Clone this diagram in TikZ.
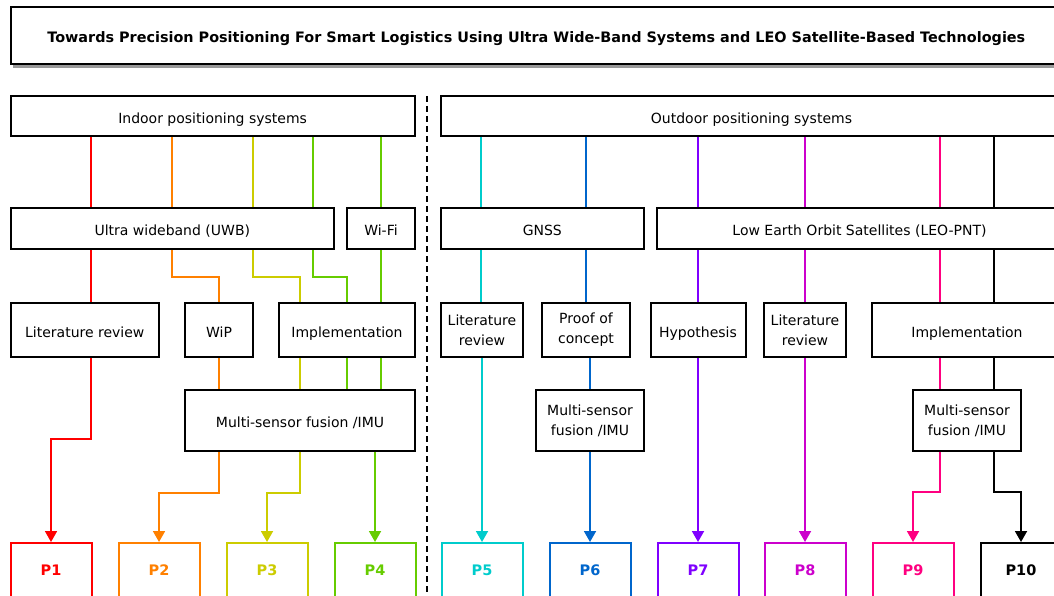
\documentclass[tikz,border=0pt]{standalone}
\usepackage{fontspec}
\setmainfont{DejaVu Sans}
\usetikzlibrary{arrows.meta,shadows}

\definecolor{cRed}{HTML}{FF0000}
\definecolor{cOrange}{HTML}{FF8000}
\definecolor{cYellow}{HTML}{CCCC00}
\definecolor{cGreen}{HTML}{66CC00}
\definecolor{cCyan}{HTML}{00CCCC}
\definecolor{cBlue}{HTML}{0066CC}
\definecolor{cPurple}{HTML}{7F00FF}
\definecolor{cMagenta}{HTML}{CC00CC}
\definecolor{cPink}{HTML}{FF0080}

\begin{document}
\begin{tikzpicture}[x=1pt,y=-1pt,
  box/.style={draw=black, line width=2pt, fill=white, inner sep=0pt, align=center,
              font=\fontsize{14pt}{20pt}\selectfont},
  one/.style={text height=15pt, text depth=0.5pt},
  wh/.style 2 args={minimum width=#1pt, minimum height=#2pt},
  pbox/.style={draw=#1, line width=2pt, fill=white, text=#1, inner sep=0pt,
               minimum width=81pt, minimum height=55pt,
               text height=10pt, text depth=0pt,
               font=\fontsize{14.5pt}{17pt}\selectfont\bfseries},
  link/.style={line width=1.8pt},
  arr/.style={line width=1.8pt, -{Triangle[width=12pt,length=11pt]}},
]
\useasboundingbox (0,0) rectangle (1054,596);
\clip (0,0) rectangle (1054,596);

% title banner
\node[box, wh={1051}{57}, line width=2pt, text height=14.1pt, text depth=0pt,
      drop shadow={shadow xshift=2pt, shadow yshift=-4pt, fill=black!40, opacity=1},
      font=\fontsize{14.4pt}{16pt}\selectfont\bfseries] (title) at (536.3,35.5)
  {Towards Precision Positioning For Smart Logistics Using Ultra Wide-Band Systems and LEO Satellite-Based Technologies};

% indoor / outdoor separator
\coordinate (dtop) at (427,96);
\coordinate (dbot) at (427,600);
\draw[line width=2pt, dash pattern=on 6pt off 4pt] (dtop) -- (dbot);

% level 1
\node[box, one, wh={404}{40}] (indoor)  at (212.6,116) {Indoor positioning systems};
\node[box, one, wh={621}{40}] (outdoor) at (751.5,116) {Outdoor positioning systems};

% level 2
\node[box, one, wh={323}{41}] (uwb)  at (172.3,228.5) {Ultra wideband (UWB)};
\node[box, one, wh={68}{41}]  (wifi) at (381,228.5)   {Wi-Fi};
\node[box, one, wh={203}{41}] (gnss) at (542.3,228.5) {GNSS};
\node[box, one, wh={405}{41}] (leo)  at (859.5,228.5) {Low Earth Orbit Satellites (LEO-PNT)};

% level 3
\node[box, one, wh={148}{54}] (lit1)  at (84.8,330) {Literature review};
\node[box, one, wh={68}{54}]  (wip)   at (219,330)  {WiP};
\node[box, one, wh={136}{54}] (impl1) at (347,330)  {Implementation};
\node[box, wh={82}{54}]       (lit2)  at (482,330)  {Literature\\review};
\node[box, wh={88}{54}]       (poc)   at (586,330)  {Proof of\\concept};
\node[box, one, wh={95}{54}]  (hyp)   at (698,330)  {Hypothesis};
\node[box, wh={82}{54}]       (lit3)  at (805,330)  {Literature\\review};
\node[box, one, wh={190}{54}] (impl2) at (967,330)  {Implementation};

% sensor fusion
\node[box, one, wh={230}{61}] (msf1) at (300,420.5) {Multi-sensor fusion /IMU};
\node[box, wh={108}{61}]      (msf2) at (590,420.5) {Multi-sensor\\fusion /IMU};
\node[box, wh={108}{61}]      (msf3) at (967,420.5) {Multi-sensor\\fusion /IMU};

% publications
\node[pbox=cRed]     (P1)  at (51,570.5)   {P1};
\node[pbox=cOrange]  (P2)  at (159,570.5)  {P2};
\node[pbox=cYellow]  (P3)  at (267,570.5)  {P3};
\node[pbox=cGreen]   (P4)  at (375,570.5)  {P4};
\node[pbox=cCyan]    (P5)  at (482,570.5)  {P5};
\node[pbox=cBlue]    (P6)  at (590,570.5)  {P6};
\node[pbox=cPurple]  (P7)  at (698,570.5)  {P7};
\node[pbox=cMagenta] (P8)  at (805,570.5)  {P8};
\node[pbox=cPink]    (P9)  at (913,570.5)  {P9};
\node[pbox=black]    (P10) at (1021,570.5) {P10};

% column positions of the tracks
\coordinate (xr) at (91,0);
\coordinate (xo) at (172,0);
\coordinate (xy) at (253,0);
\coordinate (xy2) at (300,0);
\coordinate (xg) at (313,0);
\coordinate (xc) at (481,0);
\coordinate (xp) at (940,0);
\coordinate (xk) at (994,0);

% red track
\draw[link, cRed] (indoor.south -| xr) -- (uwb.north -| xr);
\draw[link, cRed] (uwb.south -| xr) -- (lit1.north -| xr);
\draw[arr, cRed] (lit1.south -| xr) -- ++(0,81) -| (P1.north);

% orange track
\draw[link, cOrange] (indoor.south -| xo) -- (uwb.north -| xo);
\draw[link, cOrange] (uwb.south -| xo) -- ++(0,27) -| (wip.north);
\draw[link, cOrange] (wip.south) -- (wip.south |- msf1.north);
\draw[arr, cOrange] (msf1.south -| wip.south) -- ++(0,41) -| (P2.north);

% yellow track
\draw[link, cYellow] (indoor.south -| xy) -- (uwb.north -| xy);
\draw[link, cYellow] (uwb.south -| xy) -- ++(0,27) -| (impl1.north -| xy2);
\draw[link, cYellow] (impl1.south -| xy2) -- (msf1.north -| xy2);
\draw[arr, cYellow] (msf1.south -| xy2) -- ++(0,41) -| (P3.north);

% green track through UWB
\draw[link, cGreen] (indoor.south -| xg) -- (uwb.north -| xg);
\draw[link, cGreen] (uwb.south -| xg) -- ++(0,27) -| (impl1.north);
\draw[link, cGreen] (impl1.south) -- (impl1.south |- msf1.north);

% green track through Wi-Fi
\draw[link, cGreen] (indoor.south -| wifi) -- (wifi.north);
\draw[link, cGreen] (wifi.south) -- (impl1.north -| wifi);
\draw[link, cGreen] (impl1.south -| wifi) -- (msf1.north -| wifi);
\draw[arr, cGreen] (msf1.south -| P4) -- (P4.north);

% cyan track
\draw[link, cCyan] (outdoor.south -| xc) -- (gnss.north -| xc);
\draw[link, cCyan] (gnss.south -| xc) -- (lit2.north -| xc);
\draw[arr, cCyan] (lit2.south -| P5) -- (P5.north);

% blue track
\draw[link, cBlue] (outdoor.south -| poc) -- (gnss.north -| poc);
\draw[link, cBlue] (gnss.south -| poc) -- (poc.north);
\draw[link, cBlue] (poc.south -| P6) -- (msf2.north -| P6);
\draw[arr, cBlue] (msf2.south -| P6) -- (P6.north);

% purple track
\draw[link, cPurple] (outdoor.south -| hyp) -- (leo.north -| hyp);
\draw[link, cPurple] (leo.south -| hyp) -- (hyp.north);
\draw[arr, cPurple] (hyp.south) -- (P7.north);

% magenta track
\draw[link, cMagenta] (outdoor.south -| lit3) -- (leo.north -| lit3);
\draw[link, cMagenta] (leo.south -| lit3) -- (lit3.north);
\draw[arr, cMagenta] (lit3.south) -- (P8.north);

% pink track
\draw[link, cPink] (outdoor.south -| xp) -- (leo.north -| xp);
\draw[link, cPink] (leo.south -| xp) -- (impl2.north -| xp);
\draw[link, cPink] (impl2.south -| xp) -- (msf3.north -| xp);
\draw[arr, cPink] (msf3.south -| xp) -- ++(0,40) -| (P9.north);

% black track
\draw[link, black] (outdoor.south -| xk) -- (leo.north -| xk);
\draw[link, black] (leo.south -| xk) -- (impl2.north -| xk);
\draw[link, black] (impl2.south -| xk) -- (msf3.north -| xk);
\draw[arr, black] (msf3.south -| xk) -- ++(0,40) -| (P10.north);
\end{tikzpicture}
\end{document}
